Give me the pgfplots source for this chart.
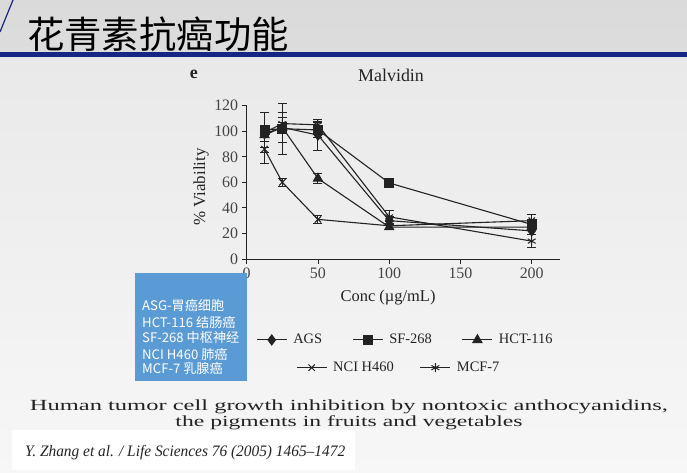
\documentclass[border=0pt]{standalone}
\usepackage{fontspec}
\setmainfont{Liberation Serif}
\newfontfamily\cjk{Noto Sans CJK SC}
\usepackage{graphicx}
\usepackage{pgfplots}
\pgfplotsset{compat=1.18}
\definecolor{navy}{RGB}{22,38,130}
\definecolor{boxblue}{RGB}{91,155,213}
\definecolor{ink}{RGB}{35,35,35}
\definecolor{bgtop}{RGB}{218,218,218}
\definecolor{bgmid}{RGB}{233,233,233}
\definecolor{bgbot}{RGB}{247,247,247}
\pgfplotsset{
  ser/.style={ink, line width=1.1bp, mark options={solid, fill=ink, line width=1bp},
    /pgfplots/error bars/y dir=both, /pgfplots/error bars/y explicit,
    /pgfplots/error bars/error mark=-,
    /pgfplots/error bars/error bar style={line width=1bp, ink},
    /pgfplots/error bars/error mark options={rotate=90, ink, line width=1bp, mark size=4.5bp}},
  legimg/.style={legend image code/.code={\draw[mark repeat=2,mark phase=2,##1] plot coordinates {(0bp,0bp) (15bp,0bp) (30bp,0bp)};}},
}
\begin{document}
\begin{tikzpicture}[x=1bp,y=1bp]
\useasboundingbox (0,0) rectangle (687,473);
\shade[top color=bgmid, bottom color=bgbot] (0,0) rectangle (687,417);
\shade[top color=bgtop, bottom color=bgtop!80!bgmid] (0,417) rectangle (687,473);
\fill[navy] (0,416) rectangle (687,421);
\draw[navy, line width=1.2bp] (0,441) -- (13,473);
\node[anchor=west, inner sep=0pt] at (27,439) {\cjk\fontsize{37.5}{40}\selectfont 花青素抗癌功能};

\begin{axis}[
  at={(246.7bp,214bp)}, anchor=south west, scale only axis,
  width=313.5bp, height=153.3bp,
  xmin=0, xmax=220, ymin=0, ymax=120,
  axis x line=bottom, axis y line=left,
  axis line style={-, ink, line width=0.8bp},
  x axis line style={-}, y axis line style={-},
  xtick={0,50,100,150,200}, ytick={0,20,40,60,80,100,120},
  tick align=outside, major tick length=5bp,
  tick style={ink, line width=0.8bp},
  ticklabel style={font=\fontsize{16}{17}\selectfont, text=ink!85},
  /pgf/number format/assume math mode=true,
  clip=false, legimg, legend cell align=left, legend columns=3,
  legend style={at={(0.0297,-0.528)}, anchor=west, draw=none, fill=none, inner sep=0pt,
    nodes={inner sep=0pt},
    font=\fontsize{14.5}{16}\selectfont, text=ink,
    /tikz/every odd column/.append style={column sep=6bp},
    /tikz/every even column/.append style={column sep=30bp}},
]
\addplot[mark=diamond*, mark size=5bp, ser] coordinates {
  (12.5,98) +- (0,6) (25,103) +- (0,12) (50,97) +- (0,12) (100,30) +- (0,3) (200,22) +- (0,3)};
\addlegendentry{AGS}
\addplot[mark=square*, mark size=4.5bp, ser] coordinates {
  (12.5,101) +- (0,14) (25,102) +- (0,20) (50,101) +- (0,6) (100,59.5) +- (0,2) (200,27) +- (0,3)};
\addlegendentry{SF-268}
\addplot[mark=triangle*, mark size=5.2bp, ser] coordinates {
  (12.5,97) +- (0,5) (25,103) +- (0,4) (50,63) +- (0,4) (100,25) +- (0,2) (200,25) +- (0,3)};
\addlegendentry{HCT-116}
\addplot[mark=x, mark size=4.5bp, ser, forget plot] coordinates {
  (12.5,86) +- (0,11) (25,60) +- (0,3) (50,31) +- (0,3) (100,26) +- (0,3) (200,30) +- (0,5)};
\addplot[mark=asterisk, mark size=4.5bp, ser, forget plot] coordinates {
  (12.5,99) +- (0,16) (25,106) +- (0,5) (50,105) +- (0,3) (100,33) +- (0,5) (200,14) +- (0,5)};
\node[font=\fontsize{16.5}{18}\selectfont, text=ink] at (axis cs:99.2,-30.5) {Conc (µg/mL)};
\node[font=\fontsize{17}{18}\selectfont, text=ink, rotate=90] at (axis cs:-32.1,56.3) {\% Viability};
\node[font=\fontsize{18}{20}\selectfont, text=ink] at (axis cs:101.3,143.4) {Malvidin};
\node[font=\bfseries\fontsize{18}{20}\selectfont, text=ink] at (axis cs:-37,144.5) {e};
\end{axis}

\begin{axis}[
  at={(246.7bp,214bp)}, anchor=south west, scale only axis,
  width=313.5bp, height=153.3bp,
  xmin=0, xmax=220, ymin=0, ymax=120, hide axis,
  legimg, legend cell align=left, legend columns=2,
  legend style={at={(0.157,-0.709)}, anchor=west, draw=none, fill=none, inner sep=0pt,
    nodes={inner sep=0pt},
    font=\fontsize{14.5}{16}\selectfont, text=ink,
    /tikz/every odd column/.append style={column sep=6bp},
    /tikz/every even column/.append style={column sep=26bp}},
]
\addlegendimage{mark=x, mark size=4.5bp, ink, line width=1.1bp, mark options={solid, line width=1bp}}
\addlegendentry{NCI H460}
\addlegendimage{mark=asterisk, mark size=4.5bp, ink, line width=1.1bp, mark options={solid, line width=1bp}}
\addlegendentry{MCF-7}
\end{axis}

\fill[boxblue] (135,92) rectangle (247,200);
\begin{scope}[every node/.style={anchor=west, inner sep=0pt, text=white, font=\cjk\fontsize{13.2}{14}\selectfont}]
\node at (142,168) {ASG-胃癌细胞};
\node at (142,151) {HCT-116 结肠癌};
\node at (142,135) {SF-268 中枢神经};
\node at (142,119) {NCI H460 肺癌};
\node at (142,105) {MCF-7 乳腺癌};
\end{scope}

\node[inner sep=0pt, text=ink] at (349,66) {\resizebox{638bp}{\height}{\fontsize{15.5}{18}\selectfont Human tumor cell growth inhibition by nontoxic anthocyanidins,}};
\node[inner sep=0pt, text=ink] at (349,50) {\resizebox{347bp}{\height}{\fontsize{15.5}{18}\selectfont the pigments in fruits and vegetables}};
\fill[white] (12,3) rectangle (355,43);
\node[anchor=west, inner sep=0pt, text=ink] at (25,20) {\resizebox{320bp}{\height}{\itshape\fontsize{16}{18}\selectfont Y. Zhang et al. / Life Sciences 76 (2005) 1465–1472}};
\end{tikzpicture}
\end{document}
